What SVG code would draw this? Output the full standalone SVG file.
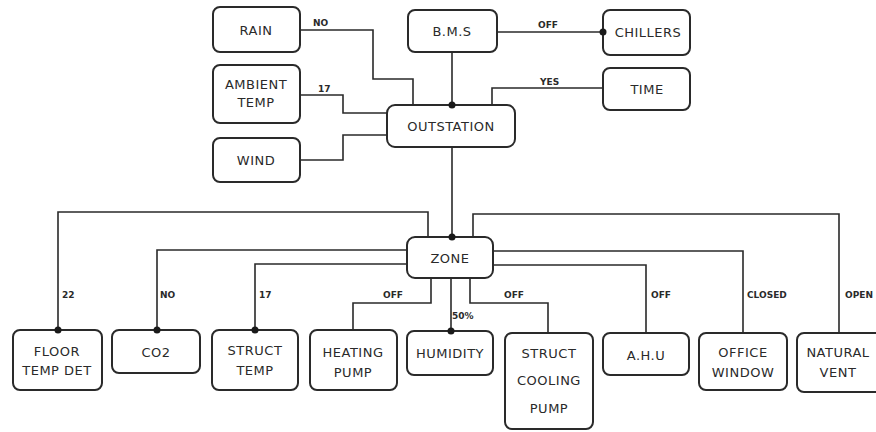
<svg xmlns="http://www.w3.org/2000/svg" width="876" height="432" viewBox="0 0 876 432">
<style>
.box{fill:#fff;stroke:#2a2a2a;stroke-width:2}
.t{font-family:"DejaVu Sans","Liberation Sans",sans-serif;font-size:13px;fill:#2a2a2a;text-anchor:middle;letter-spacing:0.5px}
.lbl{font-family:"DejaVu Sans","Liberation Sans",sans-serif;font-size:9px;font-weight:bold;fill:#2a2a2a}
.ln{fill:none;stroke:#2a2a2a;stroke-width:1.6}
.dot{fill:#1a1a1a}
</style>
<rect width="876" height="432" fill="#fff"/>
<g id="rain"><rect class="box" x="213" y="7" width="87" height="45" rx="7"/><text class="t" x="256" y="35">RAIN</text></g>
<g id="bms"><rect class="box" x="408" y="10" width="89" height="42" rx="7"/><text class="t" x="452" y="36">B.M.S</text></g>
<g id="chillers"><rect class="box" x="603" y="10" width="87" height="45" rx="7"/><text class="t" x="648" y="37">CHILLERS</text></g>
<g id="ambient"><rect class="box" x="213" y="65" width="87" height="58" rx="7"/><text class="t" x="256" y="89">AMBIENT</text><text class="t" x="256" y="107">TEMP</text></g>
<g id="time"><rect class="box" x="603" y="68" width="87" height="42" rx="7"/><text class="t" x="647" y="94">TIME</text></g>
<g id="outstation"><rect class="box" x="387" y="105" width="128" height="42" rx="8"/><text class="t" x="451" y="131">OUTSTATION</text></g>
<g id="wind"><rect class="box" x="213" y="138" width="87" height="44" rx="7"/><text class="t" x="256" y="165">WIND</text></g>
<g id="zone"><rect class="box" x="407" y="237" width="86" height="41" rx="8"/><text class="t" x="450" y="263">ZONE</text></g>
<g id="floor"><rect class="box" x="13" y="330" width="89" height="60" rx="7"/><text class="t" x="57" y="356">FLOOR</text><text class="t" x="57" y="375">TEMP DET</text></g>
<g id="co2"><rect class="box" x="112" y="330" width="88" height="43" rx="7"/><text class="t" x="156" y="357">CO2</text></g>
<g id="structtemp"><rect class="box" x="212" y="330" width="86" height="60" rx="7"/><text class="t" x="255" y="355">STRUCT</text><text class="t" x="255" y="375">TEMP</text></g>
<g id="heating"><rect class="box" x="310" y="330" width="87" height="60" rx="7"/><text class="t" x="353" y="357">HEATING</text><text class="t" x="353" y="377">PUMP</text></g>
<g id="humidity"><rect class="box" x="407" y="331" width="86" height="44" rx="7"/><text class="t" x="450" y="358">HUMIDITY</text></g>
<g id="cooling"><rect class="box" x="505" y="333" width="88" height="96" rx="7"/><text class="t" x="549" y="358">STRUCT</text><text class="t" x="549" y="385">COOLING</text><text class="t" x="549" y="413">PUMP</text></g>
<g id="ahu"><rect class="box" x="603" y="333" width="86" height="42" rx="7"/><text class="t" x="646" y="360">A.H.U</text></g>
<g id="window"><rect class="box" x="699" y="333" width="88" height="57" rx="7"/><text class="t" x="743" y="357">OFFICE</text><text class="t" x="743" y="377">WINDOW</text></g>
<g id="vent"><rect class="box" x="797" y="333" width="90" height="59" rx="7"/><text class="t" x="838" y="357">NATURAL</text><text class="t" x="838" y="377">VENT</text></g>
<g id="connectors">
<polyline class="ln" points="300,30 373,30 373,79 413,79 413,105"/>
<line class="ln" x1="452" y1="52" x2="452" y2="105"/>
<line class="ln" x1="497" y1="32" x2="603" y2="32"/>
<polyline class="ln" points="300,95 343,95 343,113 387,113"/>
<polyline class="ln" points="300,160 343,160 343,135 387,135"/>
<polyline class="ln" points="603,88 492,88 492,105"/>
<line class="ln" x1="452" y1="147" x2="452" y2="237"/>
<polyline class="ln" points="58,330 58,212 428,212 428,237"/>
<polyline class="ln" points="407,250 157,250 157,330"/>
<polyline class="ln" points="407,264 255,264 255,330"/>
<polyline class="ln" points="431,278 431,303 353,303 353,330"/>
<line class="ln" x1="451" y1="278" x2="451" y2="331"/>
<polyline class="ln" points="470,278 470,303 548,303 548,333"/>
<polyline class="ln" points="493,265 646,265 646,333"/>
<polyline class="ln" points="493,251 743,251 743,333"/>
<polyline class="ln" points="473,237 473,214 839,214 839,333"/>
<circle class="dot" cx="603" cy="32" r="3.5"/>
<circle class="dot" cx="452" cy="105" r="3.5"/>
<circle class="dot" cx="452" cy="237" r="3.5"/>
<circle class="dot" cx="58" cy="330" r="3.5"/>
<circle class="dot" cx="157" cy="330" r="3.5"/>
<circle class="dot" cx="255" cy="330" r="3.5"/>
<circle class="dot" cx="451" cy="331" r="3.5"/>
<text class="lbl" x="313" y="26">NO</text>
<text class="lbl" x="538" y="28">OFF</text>
<text class="lbl" x="318" y="92">17</text>
<text class="lbl" x="540" y="85">YES</text>
<text class="lbl" x="62" y="298">22</text>
<text class="lbl" x="160" y="298">NO</text>
<text class="lbl" x="259" y="298">17</text>
<text class="lbl" x="383" y="298">OFF</text>
<text class="lbl" x="452" y="319">50%</text>
<text class="lbl" x="504" y="298">OFF</text>
<text class="lbl" x="651" y="298">OFF</text>
<text class="lbl" x="747" y="298">CLOSED</text>
<text class="lbl" x="845" y="298">OPEN</text>
</g>
</svg>
